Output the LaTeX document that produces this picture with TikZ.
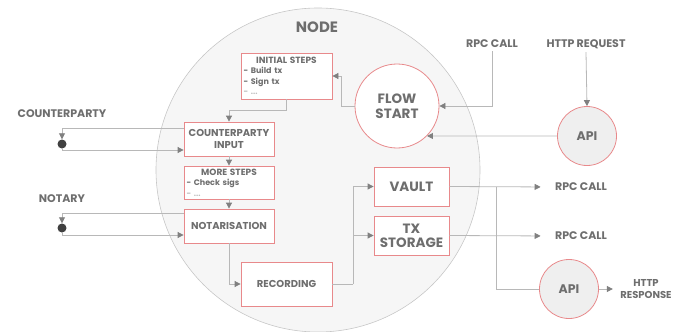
\documentclass[tikz,border=0pt]{standalone}
\usepackage{fontspec}
\setmainfont{Poppins}
\usetikzlibrary{arrows.meta,shapes}
\definecolor{txtgray}{HTML}{6E6E6E}
\definecolor{linegray}{HTML}{B8B8B8}
\definecolor{boxred}{HTML}{E8898B}
\definecolor{nodefill}{HTML}{F6F6F6}
\definecolor{apifill}{HTML}{EFEFEF}
\tikzstyle{step box}=[draw=boxred,fill=white,line width=0.8pt,inner sep=2pt,text=txtgray,align=center,font=\bfseries\fontsize{10}{11.5}\selectfont]
\tikzstyle{list box}=[step box,align=left,font=\bfseries\fontsize{8}{10.5}\selectfont]
\tikzstyle{round node}=[circle,draw=boxred,line width=0.8pt,inner sep=0pt,text=txtgray,align=center]
\tikzstyle{party dot}=[circle,fill=black!75,minimum size=9pt,inner sep=0pt]
\tikzstyle{side label}=[text=txtgray,align=center,font=\bfseries\fontsize{11}{12.5}\selectfont]
\tikzstyle{link}=[draw=linegray,line width=0.8pt]
\tikzstyle{arrow}=[link,-{Triangle[length=6pt,width=6pt,color=gray]}]
\newcommand{\hdr}[1]{\makebox[\linewidth][c]{\fontsize{9}{10.5}\selectfont #1}}
\newcommand{\faded}[1]{{\color{txtgray!45}#1}}

\begin{document}
\begin{tikzpicture}[x=1pt,y=-1pt]
    \useasboundingbox (0,0) rectangle (686,332);
    \begin{scope}
        \clip (0,0) rectangle (686,332);
        \fill[nodefill,draw=black!22,line width=0.6pt] (318,170) circle (162);
    \end{scope}
    \node[side label,font=\bfseries\fontsize{15}{16}\selectfont] (nodelbl) at (317,27) {NODE};
    % steps inside the node
    \foreach \pos/\name/\w/\h/\txt in {
        {(229,139)/cpin/90/34/COUNTERPARTY\\INPUT},
        {(229,226)/notar/90/34/NOTARISATION},
        {(286.5,284)/rec/91/44/RECORDING}}
        \node[step box,minimum width=\w,minimum height=\h] (\name) at \pos {\txt};
    \foreach \pos/\name/\txt in {{(411.5,186.5)/vault/VAULT}, {(411.5,235.5)/txst/TX\\STORAGE}}
        \node[step box,minimum width=75,minimum height=39,font=\bfseries\fontsize{13.5}{14}\selectfont] (\name) at \pos {\txt};
    \node[list box,minimum width=91,minimum height=46,text width=86] (init) at (286.5,76)
        {\hdr{INITIAL STEPS}\\- Build tx\\- Sign tx\\\faded{- ...}};
    \node[list box,minimum width=90,minimum height=33,text width=85] (more) at (229,182.5)
        {\hdr{MORE STEPS}\\- Check sigs\\\faded{- ...}};
    \node[round node,fill=white,minimum size=84,font=\bfseries\fontsize{13.5}{15}\selectfont] (flow) at (397,106) {FLOW\\START};
    \foreach \pos/\name in {{(587,136)/apiin}, {(569,289)/apiout}}
        \node[round node,fill=apifill,minimum size=59,font=\bfseries\fontsize{12.5}{14}\selectfont] (\name) at \pos {API};
    % outside world
    \foreach \pos/\name/\txt in {{(492,44)/rpcin/RPC CALL}, {(586,44)/httpin/HTTP REQUEST},
        {(62,114)/cpty/COUNTERPARTY}, {(62,199)/notary/NOTARY},
        {(581,187)/rpcvault/RPC CALL}, {(581,236)/rpctx/RPC CALL}}
        \node[side label] (\name) at \pos {\txt};
    \node[side label,font=\bfseries\fontsize{10}{12}\selectfont] (httpout) at (646,289) {HTTP\\RESPONSE};
    \node[party dot] (cptydot) at (62,144) {};
    \node[party dot] (notarydot) at (62,228) {};
    % connectors
    \path[arrow] (rpcin.south) |- (flow.east);
    \path[arrow] (httpin.south) -- (apiin.north);
    \path[arrow] (apiin.west) -- (flow.-45);
    \path[arrow] (flow.west) -- ++(-13,0) |- (init.east);
    \path[arrow] (init.south) -- ++(0,11) -| (cpin.north);
    \foreach \source/\dest in {cpin/more, more/notar}
        \path[arrow] (\source.south) -- (\dest.north);
    \path[arrow] ([yshift=11pt]cpin.west) -| (cptydot.north);
    \path[arrow] (cptydot.south) |- ([yshift=-11pt]cpin.west);
    \path[arrow] ([yshift=13pt]notar.west) -| (notarydot.north);
    \path[arrow] (notarydot.south) |- ([yshift=-9pt]notar.west);
    \path[arrow] (notar.south) |- (rec.west);
    \coordinate (fork) at (353,284);
    \path[link] (rec.east) -- (fork);
    \path[arrow] (fork) |- (vault.west);
    \path[arrow] (fork) |- (txst.west);
    \path[arrow,shorten >=11pt] (vault.east) -- (rpcvault.west);
    \path[arrow,shorten >=11pt] (txst.east) -- (rpctx.west);
    \coordinate (split) at (496,186.5);
    \path[link] (split) |- (apiout.west);
    \path[arrow,shorten >=4pt] (apiout.east) -- (httpout.west);
\end{tikzpicture}
\end{document}
